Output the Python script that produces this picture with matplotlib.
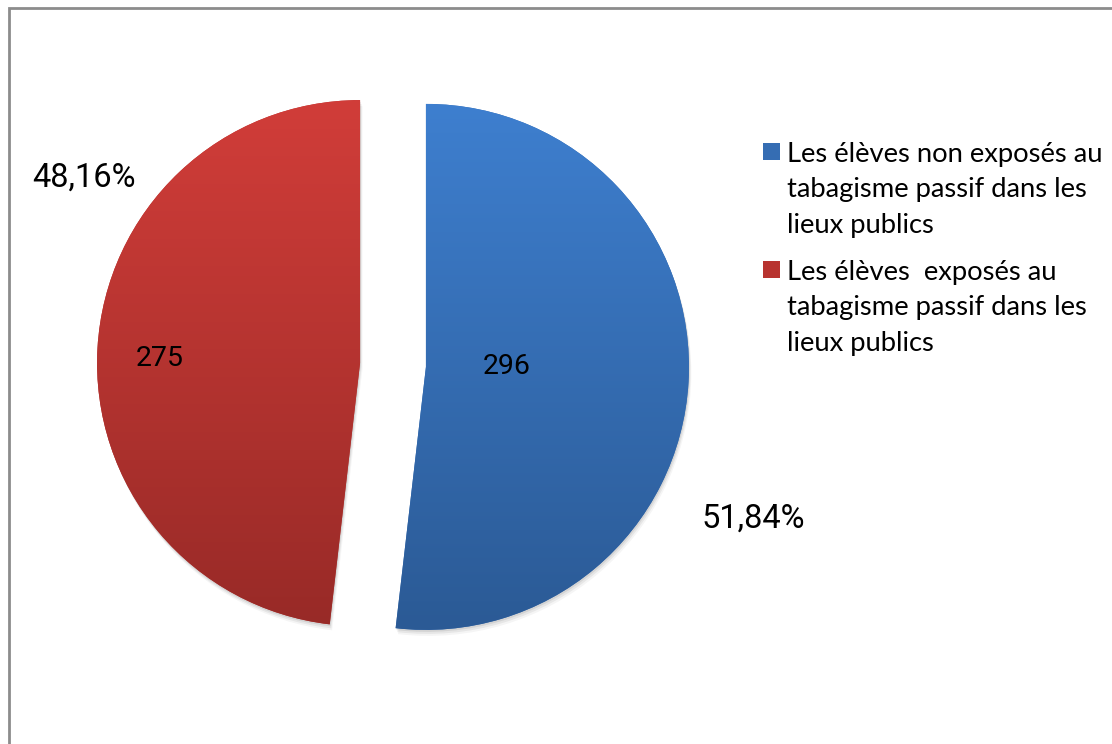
import matplotlib
matplotlib.use("Agg")
import matplotlib.pyplot as plt
import numpy as np
from matplotlib.patches import Rectangle, Wedge
from matplotlib.colors import LinearSegmentedColormap

# Data
labels = ["Les élèves non exposés au\ntabagisme passif dans les\nlieux publics",
          "Les élèves  exposés au\ntabagisme passif dans les\nlieux publics"]
counts = [296, 275]
percent_labels = ["51,84%", "48,16%"]
top_colors = ["#3e7fcf", "#d13d39"]
bottom_colors = ["#2b5a95", "#982a27"]
mid_colors = ["#356db3", "#b8332f"]

W, H = 1112, 744
fig = plt.figure(figsize=(W / 100, H / 100), dpi=100)
ax = fig.add_axes([0, 0, 1, 1])

cx, cy, R = 393, H - 365, 263
wedges, _ = ax.pie(counts, center=(cx, cy), radius=R, startangle=90,
                   counterclock=False, explode=[33, 33],
                   colors=mid_colors, wedgeprops=dict(linewidth=0))
ax.set_xlim(0, W)
ax.set_ylim(0, H)
ax.set_aspect("equal")
ax.axis("off")

# soft shadows
for w in wedges:
    c = w.center
    for k, a in [(6, 0.04), (4, 0.06), (2, 0.08)]:
        sh = Wedge((c[0] + k * 0.4, c[1] - k), w.r, w.theta1, w.theta2,
                   facecolor="black", alpha=a, linewidth=0, zorder=0.5)
        ax.add_patch(sh)

# vertical gradient fills
for w, ct, cb in zip(wedges, top_colors, bottom_colors):
    cmap = LinearSegmentedColormap.from_list("g", [cb, ct])
    grad = np.linspace(0, 1, 256).reshape(-1, 1)
    c = w.center
    im = ax.imshow(grad, cmap=cmap, origin="lower", aspect="auto",
                   extent=(c[0] - R, c[0] + R, c[1] - R, c[1] + R), zorder=1.5,
                   interpolation="bilinear")
    im.set_clip_path(w)
ax.set_xlim(0, W)
ax.set_ylim(0, H)

# value labels inside slices
num_font = "Roboto"
ax.text(507, H - 367, str(counts[0]), ha="center", va="center", fontsize=20.5,
        family=num_font, color="black", zorder=3)
ax.text(160, H - 359, str(counts[1]), ha="center", va="center", fontsize=20.5,
        family=num_font, color="black", zorder=3)
# percentage labels outside
ax.text(753, H - 519, percent_labels[0], ha="center", va="center", fontsize=23.5,
        family=num_font, color="black", zorder=3)
ax.text(84, H - 178, percent_labels[1], ha="center", va="center", fontsize=23.5,
        family=num_font, color="black", zorder=3)

# legend
leg_font = "Lato"
for i, lab in enumerate(labels):
    ytop = 143 + i * 118
    ax.add_patch(Rectangle((763, H - ytop - 17), 17, 17, facecolor=mid_colors[i],
                           edgecolor="none", zorder=3))
    ax.text(787, H - ytop + 1, lab, ha="left", va="top", fontsize=19.7,
            family=leg_font, color="black", linespacing=1.52, zorder=3)

# chart frame
fig.patches.append(Rectangle((9 / W, -0.05), 1.1, (H - 8) / H + 0.05,
                             transform=fig.transFigure, fill=False,
                             edgecolor="#8c8c8c", linewidth=2))

fig.savefig("out.png", dpi=100)
